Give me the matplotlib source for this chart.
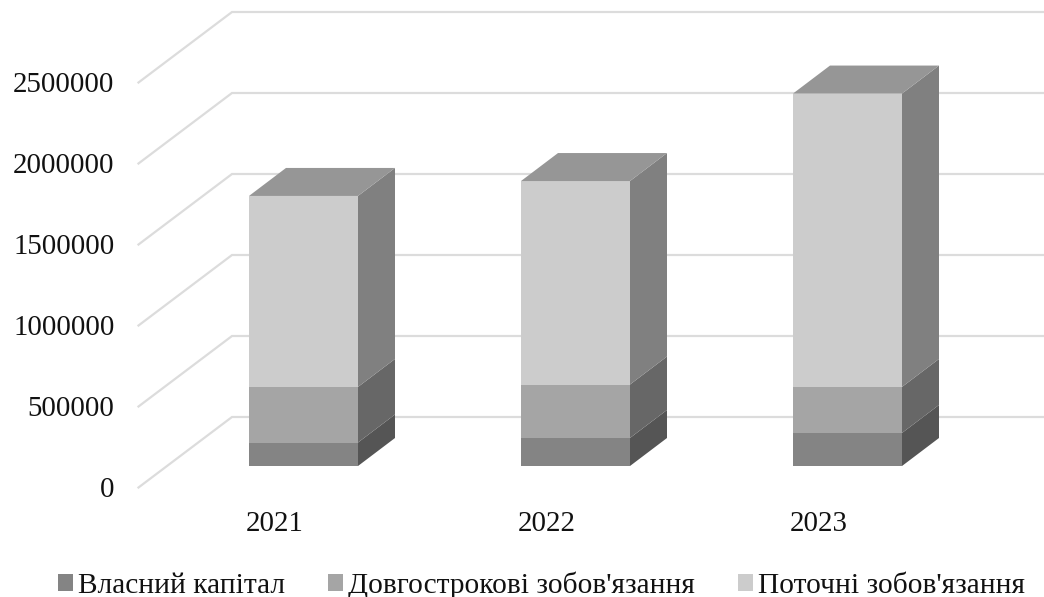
import matplotlib
matplotlib.use("Agg")
import matplotlib.pyplot as plt
from matplotlib.patches import Patch, Polygon

plt.rcParams["font.family"] = ["Liberation Serif", "DejaVu Serif"]

# Input data
years = ["2021", "2022", "2023"]
series_names = ["Власний капітал", "Довгострокові зобов'язання", "Поточні зобов'язання"]
equity = [145000, 173000, 204000]
long_term = [343000, 330000, 284000]
current = [1179000, 1256000, 1811000]
value_ticks = [0, 500000, 1000000, 1500000, 2000000, 2500000]

# Colours of each stack segment: front, side
front_colors = ["#848484", "#a5a5a5", "#cccccc"]
side_colors = ["#555555", "#676767", "#808080"]
top_color = "#969696"
grid_color = "#dcdcdc"

# Scales: one category step and one pixel of height, in data units
px_x = 1 / 272
px_y = 2500000 / 405

fig = plt.figure(figsize=(10.44, 5.97), dpi=100)
ax = fig.add_axes([0, 0, 1, 1])
ax.set_xlim(-303.5 * px_x, (1044 - 303.5) * px_x)
ax.set_ylim(-131 * px_y, 466 * px_y)
ax.axis("off")

# Depth of a bar, and where the floor and back wall sit relative to it
bar_width = 109 * px_x
depth_x = 37 * px_x
depth_y = 28 * px_y
front_x = -165 * px_x
front_y = -21.5 * px_y
wall_x = -71.5 * px_x
wall_y = 49 * px_y

# Gridlines run along the side wall, then across the back wall
for tick in value_ticks:
    ax.plot(
        [front_x, wall_x, ax.get_xlim()[1]],
        [tick + front_y, tick + wall_y, tick + wall_y],
        color=grid_color, linewidth=1.6, solid_joinstyle="miter", zorder=1
    )
    ax.text(
        front_x - 24 * px_x, tick + front_y - 2.5 * px_y, str(tick),
        ha="right", va="center", fontsize=20.8, color="#111111"
    )

# Stacked 3D bars drawn as front, side and top faces
for i, year in enumerate(years):
    x0 = i - bar_width / 2
    x1 = i + bar_width / 2
    bottom = 0
    for values, front, side in zip([equity, long_term, current], front_colors, side_colors):
        top = bottom + values[i]
        ax.add_patch(Polygon(
            [(x0, bottom), (x1, bottom), (x1, top), (x0, top)],
            facecolor=front, edgecolor="none", zorder=3
        ))
        ax.add_patch(Polygon(
            [(x1, bottom), (x1 + depth_x, bottom + depth_y), (x1 + depth_x, top + depth_y), (x1, top)],
            facecolor=side, edgecolor="none", zorder=3
        ))
        bottom = top
    ax.add_patch(Polygon(
        [(x0, bottom), (x1, bottom), (x1 + depth_x, bottom + depth_y), (x0 + depth_x, bottom + depth_y)],
        facecolor=top_color, edgecolor="none", zorder=3
    ))
    ax.text(
        i - 29 * px_x, -58 * px_y, year,
        ha="center", va="center", fontsize=20.8, color="#111111"
    )

handles = [Patch(facecolor=c, edgecolor="none") for c in front_colors]
ax.legend(
    handles, series_names, ncol=3, loc="center",
    bbox_to_anchor=(541.5 / 1044, 1 - 585 / 597), frameon=False, fontsize=21.2,
    handlelength=0.5, handleheight=0.5, handletextpad=0.18, columnspacing=1.46,
    borderpad=0, borderaxespad=0, labelcolor="#111111"
)

plt.savefig("out.png", dpi=100)
